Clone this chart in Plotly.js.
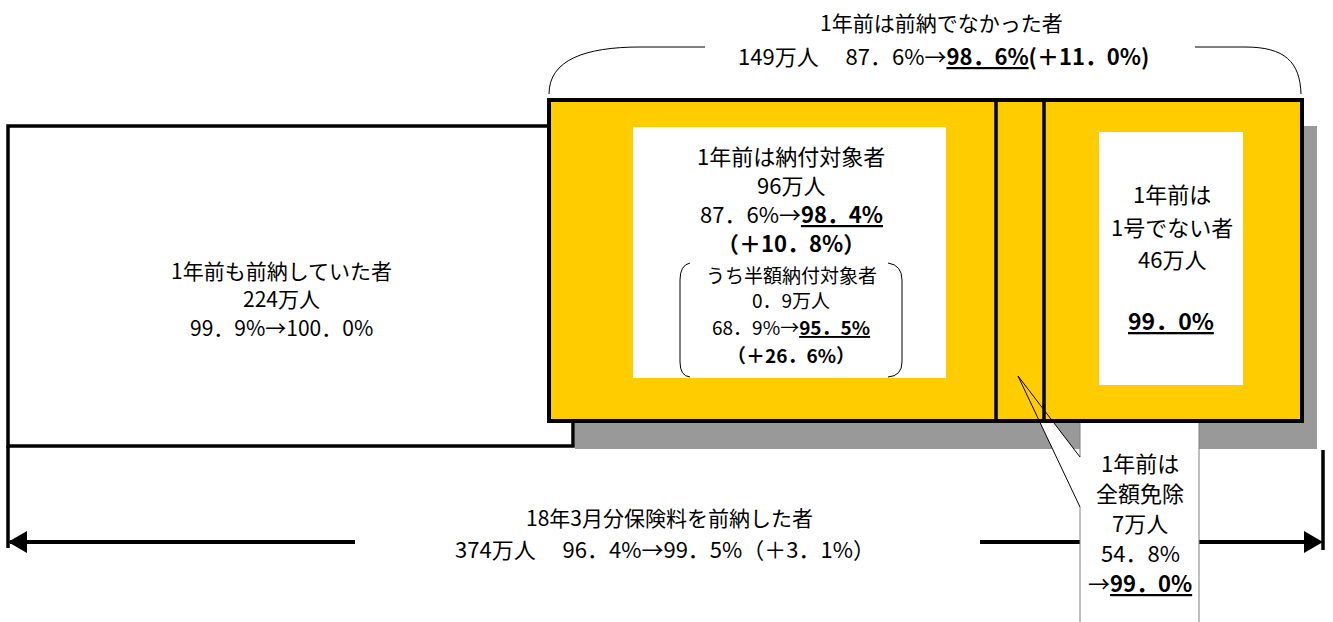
<!DOCTYPE html>
<html>
<head>
<meta charset="utf-8">
<script src="https://cdn.plot.ly/plotly-3.0.1.min.js"></script>
<style>html,body{margin:0;padding:0;background:#fff;}#chart{width:1333px;height:622px;}</style>
</head>
<body>
<div id="chart"></div>
<script>
// ---- data (万人, %) ----
const groupNames   = ['1年前も前納していた者', '1年前は納付対象者', '1年前は全額免除', '1年前は1号でない者'];
const groupCounts  = [224, 96, 7, 46];
const rateBefore   = [99.9, 87.6, 54.8, null];
const rateAfter    = [100.0, 98.4, 99.0, 99.0];
const rateDiff     = [null, 10.8, null, null];

const halfName   = 'うち半額納付対象者';
const halfCount  = 0.9;
const halfBefore = 68.9;
const halfAfter  = 95.5;
const halfDiff   = 26.6;

const notPrevName   = '1年前は前納でなかった者';
const notPrevCount  = 149;
const notPrevBefore = 87.6;
const notPrevAfter  = 98.6;
const notPrevDiff   = 11.0;

const totalName   = '18年3月分保険料を前納した者';
const totalCount  = 374;
const totalBefore = 96.4;
const totalAfter  = 99.5;
const totalDiff   = 3.1;

// ---- helpers ----
const fmt = v => v.toFixed(1).replace('.', '．');
const FONT = '"Noto Sans CJK JP", "Noto Sans", sans-serif';

const shapes = [];
const annotations = [];
function rect(x0, y0, x1, y1, fill, lineColor, lineWidth) {
  shapes.push({type: 'rect', xref: 'x', yref: 'y', x0, y0, x1, y1,
    fillcolor: fill, line: {color: lineColor || 'rgba(0,0,0,0)', width: lineWidth || 0}});
}
function seg(x0, y0, x1, y1, color, width) {
  shapes.push({type: 'line', xref: 'x', yref: 'y', x0, y0, x1, y1, line: {color, width}});
}
function path(d, fill, color, width) {
  shapes.push({type: 'path', xref: 'x', yref: 'y', path: d,
    fillcolor: fill || 'rgba(0,0,0,0)', line: {color: color || 'rgba(0,0,0,0)', width: width || 0}});
}
function label(x, y, text, size) {
  annotations.push({xref: 'x', yref: 'y', x, y, text, showarrow: false,
    xanchor: 'center', yanchor: 'middle', align: 'center',
    font: {family: FONT, size: size || 20, color: '#000'}});
}

// ---- geometry ----
// left box
rect(8, 126, 573, 446, '#ffffff', '#000', 3.5);
// shadow
rect(575, 126, 1317, 449, '#999999');
// bottom arrow
seg(10, 542, 355, 542, '#000', 4);
seg(980, 542, 1308, 542, '#000', 4);
path('M 8 542 L 27 531 L 27 553 Z', '#000');
path('M 1323 542 L 1304 531 L 1304 553 Z', '#000');
seg(8, 446, 8, 548, '#000', 3.5);
seg(1323, 450, 1323, 550, '#000', 3.5);
// callout box
rect(1080, 422, 1199, 622, '#ffffff');
seg(1199, 422, 1199, 622, '#808080', 1);
seg(1080, 422, 1080, 457, '#808080', 1);
seg(1080, 507, 1080, 622, '#808080', 1);
path('M 1018 376 L 1080 457 L 1080 507 Z', '#ffffff');
// yellow box
rect(549, 100, 1302, 421, '#FFCC00', '#000', 4);
seg(996, 100, 996, 421, '#000', 3.5);
seg(1044, 100, 1044, 421, '#000', 3.5);
// pointer outline
path('M 1080 457 L 1018 376 L 1080 507', null, '#000', 1);
// inner white boxes
rect(633, 127, 946, 378, '#ffffff');
rect(1099, 132, 1243, 385, '#ffffff');
// sub bracket
path('M 690 263 Q 680 265 680 280 L 680 362 Q 680 376 690 377', null, '#000', 1);
path('M 888 263 Q 902 265 902 280 L 902 362 Q 902 376 888 377', null, '#000', 1);
// top brace
path('M 549 94 C 549 60 585 47 640 47 L 705 47', null, '#000', 1);
path('M 1195 47 L 1245 47 C 1285 47 1300 62 1301 94', null, '#000', 1);

// ---- texts ----
label(941, 22, notPrevName, 21);
label(943, 55, `${notPrevCount}万人　 ${fmt(notPrevBefore)}%→<b><u>${fmt(notPrevAfter)}%</u>(＋${fmt(notPrevDiff)}%)</b>`, 22);

label(281, 270, groupNames[0], 21);
label(281, 298, `${groupCounts[0]}万人`, 21);
label(281, 327, `${fmt(rateBefore[0])}%→${fmt(rateAfter[0])}%`, 21);

label(791, 155, groupNames[1], 22);
label(791, 184, `${groupCounts[1]}万人`, 22);
label(791, 213, `${fmt(rateBefore[1])}%→<b><u>${fmt(rateAfter[1])}%</u></b>`, 22);
label(791, 242, `<b>（＋${fmt(rateDiff[1])}%）</b>`, 22);

label(791, 274, halfName, 19);
label(791, 299, `${fmt(halfCount)}万人`, 19);
label(791, 326, `${fmt(halfBefore)}%→<b><u>${fmt(halfAfter)}%</u></b>`, 19);
label(791, 354, `<b>（＋${fmt(halfDiff)}%）</b>`, 19);

const g3 = groupNames[3];
label(1172, 193, g3.slice(0, 4), 22);
label(1172, 226, g3.slice(4), 22);
label(1172, 258, `${groupCounts[3]}万人`, 22);
label(1171, 320, `<b><u>${fmt(rateAfter[3])}%</u></b>`, 23);

const g2 = groupNames[2];
label(1140, 462, g2.slice(0, 4), 22);
label(1140, 492, g2.slice(4), 22);
label(1140, 522, `${groupCounts[2]}万人`, 22);
label(1140, 552, `${fmt(rateBefore[2])}%`, 22);
label(1140, 582, `→<b><u>${fmt(rateAfter[2])}%</u></b>`, 22);

label(669, 517, totalName, 21);
label(665, 548, `${totalCount}万人　 ${fmt(totalBefore)}%→${fmt(totalAfter)}%（＋${fmt(totalDiff)}%）`, 22);

const layout = {
  width: 1333, height: 622,
  margin: {l: 0, r: 0, t: 0, b: 0, pad: 0},
  paper_bgcolor: '#ffffff', plot_bgcolor: '#ffffff',
  showlegend: false,
  xaxis: {range: [0, 1333], visible: false, fixedrange: true},
  yaxis: {range: [622, 0], visible: false, fixedrange: true},
  shapes, annotations,
  font: {family: FONT}
};
Plotly.newPlot('chart', [], layout, {staticPlot: true, displayModeBar: false});
</script>
</body>
</html>
